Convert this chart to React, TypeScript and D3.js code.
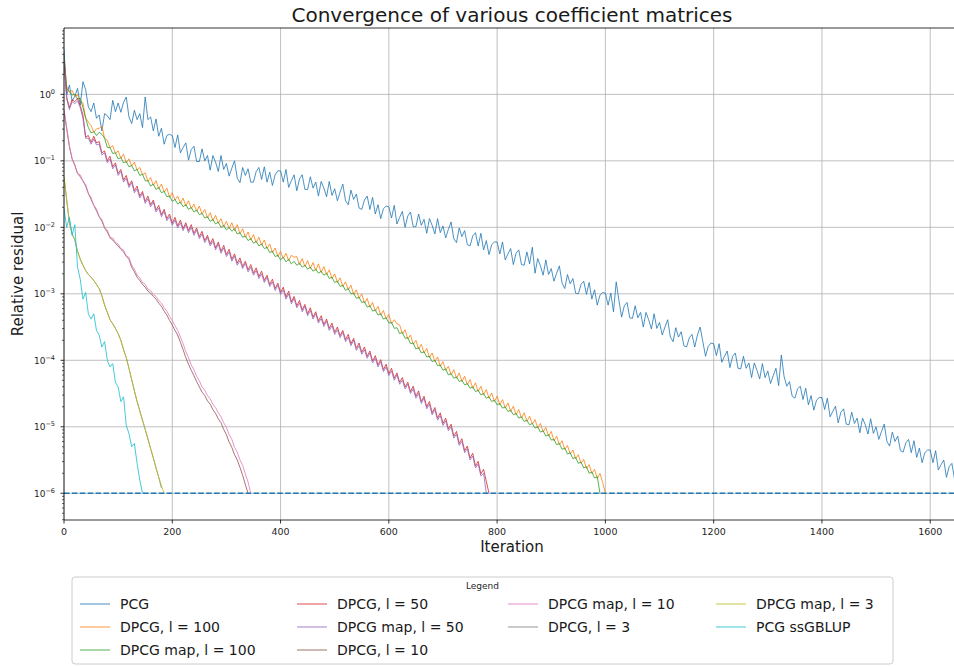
import React from "react";
import * as d3 from "d3";

// ---------- text ----------
const titleText = "Convergence of various coefficient matrices";
const xLabelText = "Iteration";
const yLabelText = "Relative residual";
const legendTitle = "Legend";

// ---------- axes ----------
const xTickValues = [0, 200, 400, 600, 800, 1000, 1200, 1400, 1600];
const yTickExponents = [0, -1, -2, -3, -4, -5, -6];
const xDomain = [0, 1655];
const yDomainExponents = [-6.402, 0.998];
const toleranceExponent = -6;
const iterationStep = 5;

// ---------- series ----------
const seriesNames = [
  "PCG",
  "DPCG, l = 100",
  "DPCG map, l = 100",
  "DPCG, l = 50",
  "DPCG map, l = 50",
  "DPCG, l = 10",
  "DPCG map, l = 10",
  "DPCG, l = 3",
  "DPCG map, l = 3",
  "PCG ssGBLUP",
];
const seriesColors = [
  "#1f77b4", "#ff7f0e", "#2ca02c", "#d62728", "#9467bd",
  "#8c564b", "#e377c2", "#7f7f7f", "#bcbd22", "#17becf",
];

// log10 of the relative residual, one value every 5 iterations
const pcgLog10 = [
  0.67, -0.01, 0.14, -0.1, -0.03, 0.09, -0.16, 0.19, 0.07, -0.19,
  -0.26, -0.13, -0.36, -0.31, -0.55, -0.29, -0.32, -0.38, -0.09, -0.26,
  -0.13, -0.27, -0.12, -0.04, -0.34, -0.44, -0.24, -0.38, -0.29, -0.5,
  -0.04, -0.38, -0.34, -0.55, -0.37, -0.63, -0.51, -0.75, -0.62, -0.6,
  -0.62, -0.8, -0.61, -0.88, -0.8, -0.73, -0.99, -0.83, -0.78, -1.01,
  -1.01, -0.82, -1.0, -0.92, -1.14, -0.92, -1.02, -1.16, -0.92, -1.13,
  -1.04, -1.23, -1.11, -1.0, -1.26, -1.33, -1.1, -1.22, -1.12, -1.32,
  -1.32, -1.16, -1.1, -1.28, -1.09, -1.32, -1.17, -1.37, -1.21, -1.15,
  -1.15, -1.32, -1.13, -1.4, -1.3, -1.21, -1.45, -1.27, -1.21, -1.43,
  -1.43, -1.24, -1.41, -1.32, -1.53, -1.31, -1.41, -1.54, -1.31, -1.52,
  -1.42, -1.6, -1.47, -1.35, -1.6, -1.66, -1.44, -1.58, -1.5, -1.71,
  -1.73, -1.59, -1.53, -1.73, -1.55, -1.8, -1.66, -1.87, -1.72, -1.68,
  -1.69, -1.86, -1.67, -1.95, -1.85, -1.76, -2.0, -1.83, -1.77, -1.99,
  -1.99, -1.8, -1.97, -1.88, -2.09, -1.87, -1.97, -2.1, -1.87, -2.08,
  -1.98, -2.16, -2.03, -1.92, -2.17, -2.23, -2.01, -2.14, -2.05, -2.26,
  -2.28, -2.13, -2.08, -2.28, -2.09, -2.34, -2.2, -2.41, -2.26, -2.22,
  -2.22, -2.4, -2.22, -2.49, -2.4, -2.32, -2.56, -2.39, -2.34, -2.56,
  -2.57, -2.37, -2.55, -2.3, -2.69, -2.47, -2.58, -2.72, -2.49, -2.71,
  -2.62, -2.81, -2.69, -2.58, -2.84, -2.92, -2.71, -2.85, -2.77, -2.99,
  -3.0, -2.86, -2.81, -3.01, -2.83, -3.08, -2.94, -3.17, -3.02, -2.98,
  -2.99, -3.17, -2.99, -3.27, -2.82, -3.1, -3.35, -3.18, -3.13, -3.36,
  -3.37, -3.18, -3.36, -3.28, -3.5, -3.28, -3.39, -3.53, -3.3, -3.52,
  -3.43, -3.62, -3.5, -3.39, -3.65, -3.72, -3.51, -3.65, -3.57, -3.78,
  -3.8, -3.66, -3.61, -3.8, -3.62, -3.5, -3.72, -3.94, -3.79, -3.74,
  -3.75, -3.93, -3.75, -4.03, -3.94, -3.86, -4.11, -3.94, -3.89, -4.12,
  -4.13, -3.94, -4.12, -4.04, -4.26, -4.04, -4.15, -4.28, -4.05, -4.26,
  -4.16, -4.35, -4.23, -4.12, -4.38, -3.92, -4.24, -4.39, -4.32, -4.54,
  -4.57, -4.43, -4.39, -4.59, -4.42, -4.67, -4.53, -4.75, -4.6, -4.56,
  -4.56, -4.74, -4.57, -4.85, -4.77, -4.69, -4.94, -4.78, -4.73, -4.96,
  -4.97, -4.78, -4.95, -4.87, -5.09, -4.87, -4.97, -5.11, -4.88, -5.1,
  -5.0, -5.19, -5.07, -4.96, -5.22, -5.29, -5.08, -5.22, -5.14, -5.36,
  -5.38, -5.24, -5.19, -5.39, -5.21, -5.46, -5.32, -5.54, -5.39, -5.35,
  -5.35, -5.54, -5.36, -5.65, -5.57, -5.5, -5.76, -5.6, -5.55, -5.79,
  -5.62, -5.8,
];

const dpcg100Log10 = [
  0.55, 0.12, 0.03, 0.06, -0.03, -0.01, -0.09, -0.13, -0.35, -0.42,
  -0.47, -0.57, -0.52, -0.51, -0.48, -0.66, -0.69, -0.81, -0.77, -0.89,
  -0.85, -0.96, -0.9, -1.03, -0.97, -1.08, -1.02, -1.14, -1.1, -1.21,
  -1.18, -1.31, -1.25, -1.37, -1.3, -1.42, -1.35, -1.47, -1.41, -1.55,
  -1.48, -1.59, -1.53, -1.64, -1.56, -1.68, -1.6, -1.72, -1.65, -1.76,
  -1.68, -1.8, -1.73, -1.86, -1.78, -1.9, -1.82, -1.94, -1.87, -1.99,
  -1.91, -2.02, -1.93, -2.05, -1.96, -2.1, -2.02, -2.15, -2.07, -2.19,
  -2.11, -2.23, -2.15, -2.27, -2.19, -2.32, -2.25, -2.38, -2.31, -2.44,
  -2.36, -2.47, -2.39, -2.5, -2.42, -2.45, -2.44, -2.56, -2.47, -2.59,
  -2.5, -2.62, -2.53, -2.65, -2.55, -2.68, -2.59, -2.71, -2.64, -2.77,
  -2.7, -2.83, -2.76, -2.89, -2.82, -2.94, -2.87, -3.01, -2.94, -3.07,
  -3.0, -3.14, -3.07, -3.2, -3.13, -3.26, -3.19, -3.32, -3.25, -3.38,
  -3.31, -3.45, -3.39, -3.45, -3.47, -3.6, -3.54, -3.68, -3.62, -3.76,
  -3.7, -3.83, -3.76, -3.89, -3.82, -3.96, -3.89, -4.02, -3.95, -4.09,
  -4.02, -4.15, -4.09, -4.22, -4.14, -4.27, -4.19, -4.32, -4.24, -4.37,
  -4.29, -4.42, -4.34, -4.47, -4.39, -4.52, -4.44, -4.57, -4.49, -4.62,
  -4.54, -4.67, -4.59, -4.72, -4.64, -4.77, -4.69, -4.82, -4.74, -4.87,
  -4.79, -4.92, -4.84, -4.96, -4.89, -5.02, -4.95, -5.08, -5.01, -5.14,
  -5.07, -5.21, -5.14, -5.27, -5.21, -5.34, -5.28, -5.41, -5.35, -5.48,
  -5.42, -5.55, -5.49, -5.63, -5.57, -5.7, -5.64, -5.78, -5.7, -5.84,
  -6.0,
];

const dpcgMap100Log10 = [
  0.56, 0.08, 0.05, -0.01, 0.0, -0.07, -0.06, -0.2, -0.36, -0.5,
  -0.58, -0.56, -0.62, -0.57, -0.6, -0.66, -0.8, -0.8, -0.89, -0.88,
  -0.97, -0.95, -1.03, -1.01, -1.09, -1.07, -1.15, -1.13, -1.22, -1.2,
  -1.3, -1.3, -1.38, -1.35, -1.43, -1.4, -1.48, -1.46, -1.54, -1.53,
  -1.61, -1.58, -1.65, -1.62, -1.69, -1.66, -1.73, -1.7, -1.77, -1.74,
  -1.81, -1.79, -1.86, -1.84, -1.91, -1.88, -1.95, -1.92, -2.0, -1.97,
  -2.04, -2.0, -2.06, -2.02, -2.1, -2.08, -2.15, -2.13, -2.2, -2.17,
  -2.24, -2.21, -2.28, -2.25, -2.32, -2.3, -2.38, -2.36, -2.44, -2.42,
  -2.49, -2.45, -2.52, -2.48, -2.55, -2.51, -2.57, -2.54, -2.6, -2.57,
  -2.63, -2.6, -2.66, -2.63, -2.69, -2.66, -2.72, -2.69, -2.77, -2.75,
  -2.83, -2.81, -2.89, -2.87, -2.95, -2.92, -3.0, -2.99, -3.07, -3.05,
  -3.13, -3.12, -3.2, -3.18, -3.26, -3.24, -3.32, -3.3, -3.38, -3.36,
  -3.44, -3.43, -3.52, -3.51, -3.6, -3.58, -3.67, -3.66, -3.75, -3.74,
  -3.83, -3.81, -3.89, -3.87, -3.95, -3.94, -4.02, -4.0, -4.08, -4.07,
  -4.15, -4.13, -4.22, -4.2, -4.27, -4.25, -4.32, -4.3, -4.37, -4.35,
  -4.42, -4.4, -4.47, -4.45, -4.52, -4.5, -4.57, -4.55, -4.62, -4.6,
  -4.67, -4.65, -4.72, -4.7, -4.77, -4.75, -4.82, -4.8, -4.87, -4.85,
  -4.92, -4.9, -4.97, -4.95, -5.02, -5.0, -5.08, -5.06, -5.14, -5.12,
  -5.2, -5.19, -5.27, -5.25, -5.34, -5.32, -5.41, -5.39, -5.48, -5.46,
  -5.55, -5.53, -5.62, -5.6, -5.7, -5.68, -5.77, -5.75, -6.0,
];

const dpcg50Log10 = [
  0.5, -0.04, -0.2, -0.08, -0.11, -0.06, -0.17, -0.31, -0.64, -0.62,
  -0.72, -0.63, -0.73, -0.71, -0.88, -0.85, -1.0, -0.93, -1.09, -1.03,
  -1.19, -1.13, -1.29, -1.22, -1.37, -1.3, -1.45, -1.38, -1.53, -1.46,
  -1.61, -1.53, -1.66, -1.59, -1.74, -1.67, -1.81, -1.73, -1.87, -1.8,
  -1.94, -1.85, -1.98, -1.89, -2.02, -1.93, -2.05, -1.96, -2.09, -2.01,
  -2.14, -2.06, -2.2, -2.12, -2.25, -2.17, -2.31, -2.22, -2.36, -2.27,
  -2.41, -2.33, -2.48, -2.4, -2.54, -2.46, -2.59, -2.51, -2.64, -2.56,
  -2.69, -2.61, -2.74, -2.66, -2.8, -2.72, -2.86, -2.78, -2.92, -2.84,
  -2.98, -2.9, -3.05, -2.96, -3.12, -3.04, -3.18, -3.1, -3.24, -3.16,
  -3.3, -3.21, -3.35, -3.27, -3.41, -3.33, -3.46, -3.38, -3.52, -3.44,
  -3.58, -3.5, -3.63, -3.55, -3.69, -3.61, -3.75, -3.67, -3.82, -3.74,
  -3.88, -3.8, -3.94, -3.86, -4.01, -3.93, -4.07, -3.99, -4.14, -4.06,
  -4.2, -4.12, -4.27, -4.19, -4.33, -4.26, -4.4, -4.33, -4.47, -4.39,
  -4.54, -4.46, -4.62, -4.54, -4.7, -4.62, -4.79, -4.71, -4.87, -4.79,
  -4.95, -4.87, -5.03, -4.96, -5.14, -5.07, -5.25, -5.18, -5.36, -5.29,
  -5.47, -5.4, -5.59, -5.52, -5.71, -5.64, -5.82, -6.0,
];

const dpcgMap50Log10 = [
  0.52, -0.07, -0.23, -0.11, -0.14, -0.1, -0.2, -0.36, -0.66, -0.66,
  -0.75, -0.67, -0.76, -0.75, -0.91, -0.88, -1.03, -0.97, -1.12, -1.06,
  -1.22, -1.16, -1.32, -1.26, -1.4, -1.33, -1.48, -1.42, -1.56, -1.49,
  -1.64, -1.57, -1.69, -1.62, -1.77, -1.71, -1.84, -1.76, -1.9, -1.84,
  -1.97, -1.89, -2.01, -1.93, -2.05, -1.96, -2.08, -2.0, -2.12, -2.04,
  -2.17, -2.1, -2.23, -2.15, -2.28, -2.21, -2.34, -2.25, -2.39, -2.31,
  -2.44, -2.37, -2.51, -2.43, -2.57, -2.5, -2.62, -2.54, -2.67, -2.6,
  -2.72, -2.65, -2.77, -2.7, -2.83, -2.75, -2.89, -2.82, -2.95, -2.87,
  -3.01, -2.94, -3.08, -3.0, -3.15, -3.07, -3.21, -3.14, -3.27, -3.19,
  -3.33, -3.25, -3.38, -3.3, -3.44, -3.37, -3.49, -3.41, -3.55, -3.48,
  -3.61, -3.54, -3.66, -3.58, -3.72, -3.65, -3.78, -3.7, -3.85, -3.78,
  -3.91, -3.84, -3.97, -3.89, -4.04, -3.97, -4.1, -4.02, -4.17, -4.1,
  -4.23, -4.16, -4.3, -4.22, -4.36, -4.3, -4.43, -4.36, -4.5, -4.43,
  -4.57, -4.5, -4.65, -4.57, -4.73, -4.66, -4.82, -4.74, -4.9, -4.83,
  -4.98, -4.91, -5.06, -5.0, -5.17, -5.11, -5.28, -5.22, -5.39, -5.33,
  -5.5, -5.44, -5.62, -5.56, -5.74, -5.7, -6.0,
];

const dpcg10Log10 = [
  -0.25, -0.52, -0.79, -0.97, -1.07, -1.19, -1.24, -1.3, -1.38, -1.49,
  -1.58, -1.67, -1.75, -1.84, -1.91, -2.01, -2.07, -2.16, -2.19, -2.24,
  -2.28, -2.33, -2.37, -2.44, -2.48, -2.6, -2.67, -2.75, -2.8, -2.86,
  -2.9, -2.96, -2.99, -3.04, -3.08, -3.14, -3.19, -3.26, -3.32, -3.4,
  -3.47, -3.55, -3.62, -3.73, -3.84, -3.96, -4.06, -4.15, -4.23, -4.32,
  -4.4, -4.48, -4.53, -4.61, -4.66, -4.74, -4.8, -4.88, -4.94, -5.04,
  -5.12, -5.23, -5.31, -5.42, -5.5, -5.61, -5.73, -5.87, -6.0,
];

const dpcgMap10Log10 = [
  -0.23, -0.5, -0.77, -0.97, -1.05, -1.19, -1.21, -1.31, -1.35, -1.49,
  -1.55, -1.67, -1.72, -1.84, -1.88, -2.0, -2.04, -2.15, -2.16, -2.23,
  -2.25, -2.32, -2.34, -2.43, -2.45, -2.57, -2.63, -2.72, -2.76, -2.83,
  -2.86, -2.93, -2.95, -3.01, -3.04, -3.1, -3.14, -3.21, -3.26, -3.34,
  -3.4, -3.48, -3.55, -3.65, -3.75, -3.87, -3.96, -4.07, -4.14, -4.24,
  -4.31, -4.4, -4.45, -4.53, -4.58, -4.66, -4.71, -4.79, -4.85, -4.94,
  -5.01, -5.12, -5.19, -5.31, -5.38, -5.5, -5.58, -5.71, -5.83, -6.0,
];

const dpcg3Log10 = [
  -1.24, -1.59, -1.93, -2.1, -2.19, -2.36, -2.48, -2.57, -2.65, -2.71,
  -2.75, -2.8, -2.86, -2.92, -3.03, -3.17, -3.28, -3.39, -3.45, -3.52,
  -3.6, -3.7, -3.84, -3.96, -4.12, -4.29, -4.46, -4.62, -4.76, -4.9,
  -5.04, -5.18, -5.33, -5.47, -5.62, -5.76, -5.92,
];

const dpcgMap3Log10 = [
  -1.24, -1.59, -1.93, -2.1, -2.19, -2.36, -2.48, -2.57, -2.65, -2.71,
  -2.75, -2.8, -2.86, -2.92, -3.03, -3.17, -3.28, -3.39, -3.45, -3.52,
  -3.6, -3.7, -3.84, -3.96, -4.12, -4.29, -4.46, -4.62, -4.76, -4.9,
  -5.04, -5.18, -5.33, -5.47, -5.62, -5.76, -5.89, -6.0,
];

const pcgSsgblupLog10 = [
  -1.72, -2.0, -1.85, -2.12, -1.96, -2.6, -2.78, -3.08, -2.98, -3.3,
  -3.38, -3.3, -3.55, -3.62, -3.8, -3.72, -4.0, -4.1, -4.05, -4.33,
  -4.4, -4.62, -4.55, -4.98, -5.1, -5.3, -5.25, -5.55, -5.8, -6.0,
];

const seriesValues = [
  pcgLog10, dpcg100Log10, dpcgMap100Log10, dpcg50Log10, dpcgMap50Log10,
  dpcg10Log10, dpcgMap10Log10, dpcg3Log10, dpcgMap3Log10, pcgSsgblupLog10,
];

// ---------- layout ----------
const W = 954;
const H = 666;
const plotLeft = 64;
const plotRight = 960;
const plotTop = 28;
const plotBottom = 520;
const FONT = "DejaVu Sans, Verdana, sans-serif";

const legendBox = { x: 72, y: 577, w: 821, h: 87 };
const legendColX = [80, 297, 508, 716];
const legendRowY = [604, 627, 650];
const legendColumns = [[0, 1, 2], [3, 4, 5], [6, 7], [8, 9]];

const x = d3.scaleLinear().domain(xDomain).range([plotLeft, plotRight]);
const y = d3
  .scaleLog()
  .domain([Math.pow(10, yDomainExponents[0]), Math.pow(10, yDomainExponents[1])])
  .range([plotBottom, plotTop]);

const lineGen = d3
  .line<number>()
  .x((_, i) => x(i * iterationStep))
  .y((d) => y(Math.pow(10, d)));

const supMinus = (e: number) => (e < 0 ? "\u2212" + Math.abs(e) : String(e));

export default function App() {
  const minorTicks: number[] = [];
  for (let e = -7; e <= 1; e++) {
    for (let k = 2; k <= 9; k++) {
      const v = k * Math.pow(10, e);
      const [lo, hi] = y.domain();
      if (v > lo && v < hi) minorTicks.push(v);
    }
  }
  const yTol = y(Math.pow(10, toleranceExponent));

  return (
    <svg
      width={W}
      height={H}
      style={{ position: "absolute", left: 0, top: 0, background: "#fff" }}
      fontFamily={FONT}
    >
      <rect x={0} y={0} width={W} height={H} fill="#fff" />
      <defs>
        <clipPath id="plotClip">
          <rect x={plotLeft} y={plotTop} width={plotRight - plotLeft} height={plotBottom - plotTop} />
        </clipPath>
      </defs>

      {/* grid */}
      <g stroke="#b0b0b0" strokeWidth={0.8}>
        {xTickValues.map((t) => (
          <line key={"gx" + t} x1={x(t)} x2={x(t)} y1={plotTop} y2={plotBottom} />
        ))}
        {yTickExponents.map((e) => (
          <line key={"gy" + e} x1={plotLeft} x2={plotRight} y1={y(Math.pow(10, e))} y2={y(Math.pow(10, e))} />
        ))}
      </g>

      {/* series */}
      <g clipPath="url(#plotClip)" fill="none">
        {seriesValues.map((vals, i) => (
          <path
            key={seriesNames[i]}
            d={lineGen(vals) || ""}
            stroke={seriesColors[i]}
            strokeWidth={1}
            strokeOpacity={0.8}
            strokeLinejoin="round"
          />
        ))}
        <line
          x1={plotLeft}
          x2={plotRight}
          y1={yTol}
          y2={yTol}
          stroke="#1f77b4"
          strokeWidth={1.5}
          strokeDasharray="5.5,2.4"
        />
      </g>

      {/* spines */}
      <g stroke="#000" strokeWidth={0.8} fill="none">
        <line x1={plotLeft} x2={plotLeft} y1={plotTop} y2={plotBottom} />
        <line x1={plotLeft} x2={plotRight} y1={plotBottom} y2={plotBottom} />
        <line x1={plotLeft} x2={plotRight} y1={plotTop} y2={plotTop} />
        <line x1={plotRight} x2={plotRight} y1={plotTop} y2={plotBottom} />
      </g>

      {/* x ticks */}
      <g>
        {xTickValues.map((t) => (
          <g key={"xt" + t}>
            <line x1={x(t)} x2={x(t)} y1={plotBottom} y2={plotBottom + 3.5} stroke="#000" strokeWidth={0.8} />
            <text x={x(t)} y={plotBottom + 15} fontSize={9.5} textAnchor="middle" fill="#262626">
              {t}
            </text>
          </g>
        ))}
      </g>

      {/* y ticks */}
      <g>
        {yTickExponents.map((e) => {
          const yy = y(Math.pow(10, e));
          return (
            <g key={"yt" + e}>
              <line x1={plotLeft - 3.5} x2={plotLeft} y1={yy} y2={yy} stroke="#000" strokeWidth={0.8} />
              <text x={55} y={yy + 3.3} fontSize={9} textAnchor="end" fill="#262626">
                10
                <tspan fontSize={6.5} dy={-4}>
                  {supMinus(e)}
                </tspan>
              </text>
            </g>
          );
        })}
        {minorTicks.map((v, i) => (
          <line key={"mt" + i} x1={plotLeft - 2} x2={plotLeft} y1={y(v)} y2={y(v)} stroke="#000" strokeWidth={0.6} />
        ))}
      </g>

      {/* labels */}
      <text x={512} y={22} fontSize={20} textAnchor="middle" fill="#1a1a1a">
        {titleText}
      </text>
      <text x={512} y={552} fontSize={15} textAnchor="middle" fill="#1a1a1a">
        {xLabelText}
      </text>
      <text
        x={23}
        y={274}
        fontSize={15}
        textAnchor="middle"
        fill="#1a1a1a"
        transform="rotate(-90, 23, 274)"
      >
        {yLabelText}
      </text>

      {/* legend */}
      <g>
        <rect
          x={legendBox.x}
          y={legendBox.y}
          width={legendBox.w}
          height={legendBox.h}
          rx={3}
          fill="#fff"
          fillOpacity={0.8}
          stroke="#cccccc"
          strokeWidth={1}
        />
        <text
          x={legendBox.x + legendBox.w / 2}
          y={legendBox.y + 12}
          fontSize={9}
          textAnchor="middle"
          fill="#262626"
        >
          {legendTitle}
        </text>
        {legendColumns.map((col, ci) =>
          col.map((si, ri) => (
            <g key={"lg" + si}>
              <line
                x1={legendColX[ci]}
                x2={legendColX[ci] + 30}
                y1={legendRowY[ri]}
                y2={legendRowY[ri]}
                stroke={seriesColors[si]}
                strokeOpacity={0.55}
                strokeWidth={1.5}
              />
              <text x={legendColX[ci] + 40} y={legendRowY[ri] + 5} fontSize={14} fill="#1a1a1a">
                {seriesNames[si]}
              </text>
            </g>
          ))
        )}
      </g>
    </svg>
  );
}
